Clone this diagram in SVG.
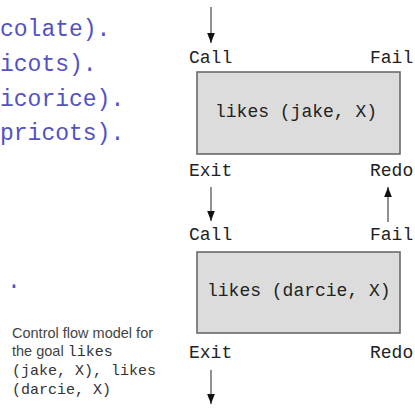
<svg xmlns="http://www.w3.org/2000/svg" width="415" height="408" viewBox="0 0 415 408">
<defs>
<marker id="ah" viewBox="0 0 10 10" refX="10" refY="5" markerWidth="10" markerHeight="10" markerUnits="userSpaceOnUse" orient="auto">
<path d="M0,1.2 L10,5 L0,8.8 z" fill="#111"/>
</marker>
<style>
.code{font-family:"Liberation Mono","DejaVu Sans Mono",monospace;font-size:23px;fill:#5252c2}
.lbl{font-family:"Liberation Mono","DejaVu Sans Mono",monospace;font-size:18px;fill:#222}
.box{fill:#dcdcdc;stroke:#6a6a6a;stroke-width:1.6}
.cap{font-family:"Liberation Sans",Arial,sans-serif;font-size:14.5px;fill:#444}
.capm{font-family:"Liberation Mono","DejaVu Sans Mono",monospace;font-size:15px;fill:#333}
.arr{stroke:#555;stroke-width:1.3;fill:none;marker-end:url(#ah)}
</style>
</defs>
<g id="code">
<text class="code" x="0" y="36">colate).</text>
<text class="code" x="0" y="71">icots).</text>
<text class="code" x="0" y="106">icorice).</text>
<text class="code" x="0" y="140">pricots).</text>
<text class="code" x="7" y="288">.</text>
</g>
<g id="caption">
<text class="cap" x="12" y="338">Control flow model for</text>
<text x="12" y="356"><tspan class="cap">the goal </tspan><tspan class="capm">likes</tspan></text>
<text class="capm" x="12" y="375">(jake, X), likes</text>
<text class="capm" x="12" y="394">(darcie, X)</text>
</g>
<g id="goal1">
<rect class="box" x="197" y="72" width="203" height="82"/>
<text class="lbl" x="215" y="117">likes (jake, X)</text>
</g>
<g id="goal2">
<rect class="box" x="197" y="252" width="203" height="81"/>
<text class="lbl" x="207" y="296">likes (darcie, X)</text>
</g>
<g id="ports">
<text class="lbl" x="189" y="63">Call</text>
<text class="lbl" x="370" y="63">Fail</text>
<text class="lbl" x="189" y="176">Exit</text>
<text class="lbl" x="370" y="176">Redo</text>
<text class="lbl" x="189" y="240">Call</text>
<text class="lbl" x="370" y="240">Fail</text>
<text class="lbl" x="189" y="358">Exit</text>
<text class="lbl" x="370" y="358">Redo</text>
</g>
<g id="connectors">
<line class="arr" x1="211" y1="7" x2="211" y2="43"/>
<line class="arr" x1="211" y1="187" x2="211" y2="221"/>
<line class="arr" x1="388" y1="222" x2="388" y2="187"/>
<line class="arr" x1="211" y1="370" x2="211" y2="404"/>
</g>
</svg>
